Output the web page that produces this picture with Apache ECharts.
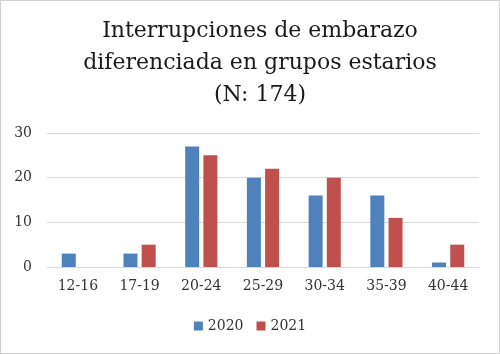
<!DOCTYPE html>
<html><head><meta charset="utf-8">
<script src="https://cdn.jsdelivr.net/npm/echarts@6/dist/echarts.min.js"></script>
<style>html,body{margin:0;padding:0;background:#fff}#c{width:498px;height:352px;border:1px solid #d0d0d0}</style>
</head><body><div id="c"></div>
<script>
const categories = ['12-16','17-19','20-24','25-29','30-34','35-39','40-44'];
const values2020 = [3,3,27,20,16,16,1];
const values2021 = [0,5,25,22,20,11,5];
const yTicks = [0,10,20,30];
const font = 'DejaVu Serif';
const chart = echarts.init(document.getElementById('c'));
chart.setOption({
  animation:false,
  graphic:[{type:'text',x:259,y:14,
    style:{text:'Interrupciones de embarazo\ndiferenciada en grupos estarios\n(N: 174)',align:'center',verticalAlign:'top',
      fontFamily:font,fontSize:22,fill:'#1a1a1a',lineHeight:32}}],
  legend:{bottom:15,left:'center',itemWidth:9,itemHeight:9,itemGap:13,icon:'rect',
    textStyle:{fontFamily:font,fontSize:14,color:'#333'}},
  grid:{left:46,right:20,top:132,bottom:86},
  xAxis:{type:'category',data:categories,axisTick:{show:false},
    axisLine:{lineStyle:{color:'#d9d9d9'}},
    axisLabel:{fontFamily:font,fontSize:14,color:'#333',margin:12}},
  yAxis:{type:'value',min:0,max:30,interval:10,
    splitLine:{lineStyle:{color:'#d9d9d9'}},
    axisLabel:{fontFamily:font,fontSize:14,color:'#333',margin:15}},
  series:[
    {name:'2020',type:'bar',data:values2020,barWidth:14,barGap:'30%',itemStyle:{color:'#4F81BD'}},
    {name:'2021',type:'bar',data:values2021,barWidth:14,itemStyle:{color:'#C0504D'}}
  ]
});
</script></body></html>
